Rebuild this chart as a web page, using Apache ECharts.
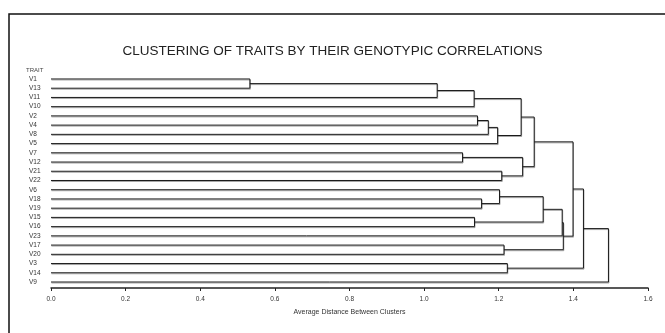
<!DOCTYPE html>
<html>
<head>
<meta charset="utf-8">
<script src="https://cdn.jsdelivr.net/npm/echarts@6/dist/echarts.min.js"></script>
<style>
html, body { margin: 0; padding: 0; background: #fff; }
#chart { width: 665px; height: 333px; }
</style>
</head>
<body>
<div id="chart"></div>
<script>
// leaf order, top to bottom
const leaves = ['V1', 'V13', 'V11', 'V10', 'V2', 'V4', 'V8', 'V5', 'V7', 'V12', 'V21', 'V22',
	'V6', 'V18', 'V19', 'V15', 'V16', 'V23', 'V17', 'V20', 'V3', 'V14', 'V9'];
// merges: ids below leaves.length are leaves, 23 is the first merge, 24 the second ...
const mergeLeft = [0, 23, 8, 24, 15, 4, 13, 28, 30, 12, 10, 18, 20, 26, 25, 36, 32, 39, 40, 38, 42, 43];
const mergeRight = [1, 2, 9, 3, 16, 5, 14, 6, 7, 29, 11, 19, 21, 31, 33, 37, 27, 17, 34, 41, 35, 22];
const mergeHeight = [0.533, 1.035, 1.103, 1.134, 1.135, 1.143, 1.154, 1.172, 1.197, 1.202, 1.208,
	1.214, 1.223, 1.260, 1.264, 1.295, 1.319, 1.370, 1.373, 1.399, 1.427, 1.494];
const xTicks = [0, 0.2, 0.4, 0.6, 0.8, 1.0, 1.2, 1.4, 1.6];

const nodeH = leaves.map(() => 0);
const nodeY = leaves.map((_, i) => i);
const links = mergeHeight.map((h, k) => {
	const l = mergeLeft[k];
	const r = mergeRight[k];
	nodeH.push(h);
	nodeY.push((nodeY[l] + nodeY[r]) / 2);
	return [nodeH[l], nodeY[l], nodeH[r], nodeY[r], h];
});

const chart = echarts.init(document.getElementById('chart'));

const smallFont = 'Liberation Sans, Arial, sans-serif';

chart.setOption({
	animation: false,
	title: [
		{
			text: 'CLUSTERING OF TRAITS BY THEIR GENOTYPIC CORRELATIONS',
			left: 'center',
			top: 44,
			padding: 0,
			textStyle: { fontFamily: smallFont, fontSize: 13.5, fontWeight: 'normal', color: '#222' },
		},
		{
			text: 'TRAIT',
			left: 26,
			top: 67,
			padding: 0,
			textStyle: { fontFamily: smallFont, fontSize: 6, fontWeight: 'normal', color: '#444' },
		},
	],
	graphic: [
		{
			type: 'rect',
			shape: { x: 9, y: 14, width: 700, height: 400 },
			style: { fill: null, stroke: '#111', lineWidth: 1.5 },
			silent: true,
		},
	],
	grid: { left: 51, right: 17, top: 74, bottom: 45 },
	xAxis: {
		type: 'value',
		min: 0,
		max: 1.6,
		interval: 0.2,
		name: 'Average Distance Between Clusters',
		nameLocation: 'middle',
		nameGap: 21,
		nameTextStyle: { fontFamily: smallFont, fontSize: 7, color: '#333' },
		axisLine: { onZero: false, lineStyle: { color: '#222', width: 1.5 } },
		axisTick: { length: 3, lineStyle: { color: '#222' } },
		axisLabel: {
			margin: 8,
			fontFamily: smallFont,
			fontSize: 6.5,
			color: '#333',
			formatter: (v) => v.toFixed(1),
		},
		splitLine: { show: false },
	},
	yAxis: {
		type: 'value',
		inverse: true,
		min: -0.54,
		max: 22.65,
		axisLine: { show: false },
		axisTick: { show: false },
		splitLine: { show: false },
		axisLabel: {
			customValues: leaves.map((_, i) => i),
			formatter: (v) => leaves[v] || '',
			align: 'left',
			margin: 22,
			fontFamily: smallFont,
			fontSize: 6.5,
			color: '#333',
		},
	},
	series: [
		{
			type: 'custom',
			coordinateSystem: 'cartesian2d',
			encode: { x: [0, 2, 4], y: [1, 3] },
			data: links,
			renderItem: (params, api) => {
				const y1 = api.value(1);
				const y2 = api.value(3);
				const h = api.value(4);
				return {
					type: 'polyline',
					shape: {
						points: [
							api.coord([api.value(0), y1]),
							api.coord([h, y1]),
							api.coord([h, y2]),
							api.coord([api.value(2), y2]),
						],
					},
					style: {
						fill: null,
						stroke: '#1a1a1a',
						lineWidth: 1,
						shadowColor: 'rgba(0,0,0,0.35)',
						shadowOffsetY: 1,
						shadowOffsetX: 0.5,
						shadowBlur: 0,
					},
				};
			},
		},
	],
});
</script>
</body>
</html>
